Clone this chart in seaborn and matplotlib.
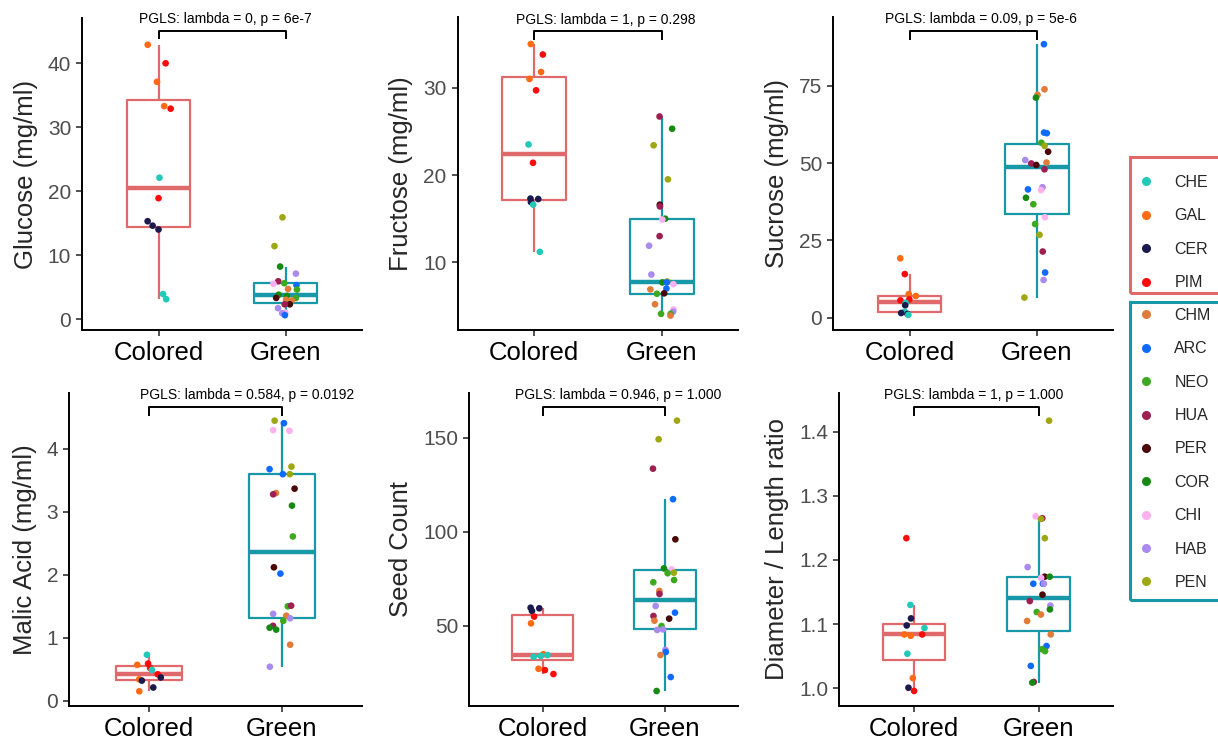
import numpy as np
import pandas as pd
import seaborn as sns
import matplotlib.pyplot as plt
from matplotlib.lines import Line2D
from matplotlib.patches import Rectangle

colored_species = ["CHE", "GAL", "CER", "PIM"]
green_species = ["CHM", "ARC", "NEO", "HUA", "PER", "COR", "CHI", "HAB", "PEN"]
species_colors = {
    "CHE": "#22C9B8", "GAL": "#FF6A13", "CER": "#1B1A4E", "PIM": "#FF0A0A",
    "CHM": "#E07B39", "ARC": "#0F6BFF", "NEO": "#3CA91F", "HUA": "#9E1F52",
    "PER": "#4A0808", "COR": "#178A13", "CHI": "#FFB0EE", "HAB": "#A98BEF",
    "PEN": "#9FA712",
}
group_colors = {"Colored": "#E0696B", "Green": "#1698A6"}
groups = ["Colored", "Green"]

# glucose
glucose_sp = ["GAL", "PIM", "GAL", "GAL", "PIM", "CHE", "PIM", "CER", "CER", "CER", "CHE", "CHE",
              "PEN", "PEN", "COR", "HAB", "HUA", "NEO", "ARC", "CHI", "CHM", "NEO", "COR", "COR",
              "NEO", "PER", "CHM", "CHM", "PER", "HUA", "HAB", "CHI", "HAB", "ARC"]
glucose_val = [42.9, 40.0, 37.1, 33.3, 32.9, 22.1, 18.9, 15.3, 14.6, 14.0, 3.9, 3.1,
               15.9, 11.4, 8.2, 7.1, 5.9, 5.6, 5.3, 5.5, 4.7, 4.6, 3.8, 3.6,
               3.3, 3.3, 3.0, 2.9, 2.3, 2.3, 1.7, 1.0, 0.9, 0.6]

# fructose
fructose_sp = ["GAL", "PIM", "GAL", "GAL", "PIM", "CHE", "PIM", "CER", "CER", "CER", "CHE", "CHE",
               "HUA", "COR", "PEN", "PEN", "PER", "HUA", "COR", "CHI", "HUA", "HAB", "HAB", "PEN",
               "COR", "ARC", "CHI", "ARC", "CHM", "NEO", "PER", "CHM", "CHI", "HAB", "NEO", "NEO", "CHM"]
fructose_val = [35.0, 33.8, 31.8, 31.0, 29.7, 23.5, 21.4, 17.3, 17.25, 16.9, 16.6, 11.2,
                26.7, 25.3, 23.4, 19.5, 16.6, 16.4, 15.0, 14.9, 13.0, 11.9, 8.6, 7.8,
                7.7, 7.7, 7.5, 7.0, 6.9, 6.4, 6.45, 5.2, 4.6, 4.35, 4.1, 4.1, 3.9]

# sucrose
sucrose_sp = ["GAL", "PIM", "GAL", "GAL", "PIM", "PIM", "CHE", "CER", "CHE", "CER", "CER", "CHE",
              "ARC", "CHM", "CHM", "COR", "ARC", "ARC", "NEO", "PEN", "PER", "HAB", "CHM", "HUA",
              "PER", "HUA", "HAB", "ARC", "CHI", "COR", "NEO", "CHI", "NEO", "PEN", "HUA", "ARC",
              "HAB", "PEN"]
sucrose_val = [19.2, 14.1, 7.6, 7.0, 5.9, 5.6, 4.8, 4.0, 1.9, 1.5, 1.2, 0.9,
               88.5, 73.9, 72.1, 71.2, 59.9, 59.7, 56.6, 55.6, 53.7, 51.0, 50.2, 49.9,
               49.4, 48.0, 42.2, 41.5, 41.3, 38.8, 36.7, 32.5, 30.3, 26.8, 21.4, 14.6,
               12.2, 6.5]

# malic acid
malic_sp = ["CHE", "PIM", "GAL", "PIM", "CHE", "PIM", "CER", "GAL", "CER", "CER", "GAL",
            "PEN", "ARC", "CHI", "CHI", "PEN", "ARC", "ARC", "PEN", "PER", "CHM", "HUA", "COR",
            "NEO", "PER", "ARC", "NEO", "HUA", "HAB", "CHM", "HAB", "NEO", "HUA", "COR", "COR",
            "CHM", "HAB"]
malic_val = [0.73, 0.59, 0.57, 0.52, 0.49, 0.42, 0.37, 0.34, 0.32, 0.21, 0.15,
             4.45, 4.41, 4.30, 4.29, 3.72, 3.68, 3.60, 3.60, 3.37, 3.30, 3.28, 3.10,
             2.61, 2.12, 2.02, 1.50, 1.51, 1.38, 1.35, 1.31, 1.27, 1.19, 1.16, 1.13,
             0.89, 0.54]

# seed count
seed_sp = ["CER", "CER", "CER", "PIM", "GAL", "GAL", "CHE", "CHE", "CHE", "GAL", "PIM", "PIM",
           "PEN", "PEN", "HUA", "ARC", "PER", "COR", "CHI", "PEN", "NEO", "NEO", "NEO", "CHM",
           "HUA", "HAB", "ARC", "HUA", "PER", "CHM", "NEO", "HAB", "HAB", "HAB", "ARC", "CHM",
           "ARC", "COR"]
seed_val = [59.7, 59.4, 58.0, 55.0, 51.4, 35.0, 34.6, 34.1, 33.7, 27.3, 26.6, 24.5,
            159.0, 149.1, 133.5, 117.3, 96.0, 80.6, 80.0, 78.3, 78.0, 74.4, 73.2, 68.6,
            67.0, 60.6, 57.1, 55.3, 53.9, 52.8, 50.0, 48.2, 47.9, 37.3, 36.2, 34.6,
            22.9, 15.5]

# diameter / length ratio
ratio_sp = ["PIM", "CHE", "CER", "CER", "CHE", "PIM", "GAL", "GAL", "CHE", "GAL", "CER", "PIM",
            "PEN", "CHI", "HUA", "PEN", "PEN", "HAB", "PER", "COR", "CHI", "ARC", "ARC", "HAB",
            "PER", "HUA", "HAB", "COR", "NEO", "CHM", "CHM", "CHM", "ARC", "NEO", "NEO", "ARC",
            "HUA", "COR"]
ratio_val = [1.234, 1.130, 1.109, 1.098, 1.094, 1.084, 1.084, 1.082, 1.054, 1.016, 1.001, 0.996,
             1.417, 1.268, 1.265, 1.264, 1.234, 1.189, 1.174, 1.174, 1.172, 1.163, 1.163, 1.163,
             1.146, 1.136, 1.129, 1.123, 1.119, 1.115, 1.105, 1.084, 1.066, 1.061, 1.058, 1.035,
             1.010, 1.009]

sns.set_style("ticks")
plt.rcParams["font.family"] = ["Liberation Sans", "DejaVu Sans"]

W, H = 1218, 741
fig = plt.figure(figsize=(W / 100, H / 100), dpi=100)


def px_axes(left, top, right, bottom):
    return fig.add_axes([left / W, 1 - bottom / H, (right - left) / W, (bottom - top) / H])


panels = [
    ("Glucose (mg/ml)", glucose_sp, glucose_val, (82.3, 18.3, 361.7, 330), (-1.72, 47.04),
     [0, 10, 20, 30, 40], "{:.0f}", (45.1, 43.75, 46.9, 0.53), "PGLS: lambda = 0, p = 6e-7"),
    ("Fructose (mg/ml)", fructose_sp, fructose_val, (457.7, 16.7, 738.3, 330), (2.25, 38.13),
     [10, 20, 30], "{:.0f}", (36.5, 35.46, 37.8, 0.56), "PGLS: lambda = 1, p = 0.298"),
    ("Sucrose (mg/ml)", sucrose_sp, sucrose_val, (833.3, 16.7, 1113.3, 330), (-4.0, 97.4),
     [0, 25, 50, 75], "{:.0f}", (92.9, 89.9, 96.6, 0.56), "PGLS: lambda = 0.09, p = 5e-6"),
    ("Malic Acid (mg/ml)", malic_sp, malic_val, (69.3, 393.3, 361.7, 705.7), (-0.079, 4.885),
     [0, 1, 2, 3, 4], "{:.0f}", (4.66, 4.52, 4.86, 0.74), "PGLS: lambda = 0.584, p = 0.0192"),
    ("Seed Count", seed_sp, seed_val, (469.3, 393.3, 738.3, 705.7), (7.7, 173.5),
     [50, 100, 150], "{:.0f}", (166.1, 161.5, 172.7, 0.62), "PGLS: lambda = 0.946, p = 1.000"),
    ("Diameter / Length ratio", ratio_sp, ratio_val, (839.3, 393.3, 1113.3, 705.7), (0.973, 1.4597),
     [1.0, 1.1, 1.2, 1.3, 1.4], "{:.1f}", (1.438, 1.4244, 1.457, 0.48), "PGLS: lambda = 1, p = 1.000"),
]

np.random.seed(7)
for ylabel, sp, val, box, ylim, yticks, fmt, bracket, label in panels:
    df = pd.DataFrame({"species": sp, "value": val})
    df["group"] = np.where(df.species.isin(colored_species), "Colored", "Green")
    ax = px_axes(*box)
    sns.boxplot(data=df, x="group", y="value", hue="group", order=groups, hue_order=groups,
                palette=group_colors, fill=False, width=0.5, linewidth=1.6, showfliers=False,
                whis=1.5, medianprops={"linewidth": 3.2}, capprops={"linewidth": 0},
                legend=False, ax=ax)
    sns.stripplot(data=df, x="group", y="value", hue="species", order=groups,
                  palette=species_colors, jitter=0.1, size=4.8, linewidth=0,
                  legend=False, ax=ax)
    ax.set_xlim(-0.6, 1.6)
    ax.set_ylim(*ylim)
    ax.set_yticks(yticks)
    ax.set_yticklabels([fmt.format(t) for t in yticks])
    ax.set_xlabel("")
    ax.set_ylabel(ylabel, fontsize=18.5, labelpad=7)
    ax.tick_params(axis="y", labelsize=15, colors="#4D4D4D", length=4, width=1.2, pad=4)
    ax.tick_params(axis="x", labelsize=18.5, labelcolor="black", color="#4D4D4D",
                   length=4, width=1.2, pad=4)
    ax.tick_params(axis="both", color="#333333")
    for s in ["left", "bottom"]:
        ax.spines[s].set_linewidth(1.4)
        ax.spines[s].set_color("black")
    sns.despine(ax=ax)
    top_y, leg_y, text_y, text_x = bracket
    ax.plot([0, 0, 1, 1], [leg_y, top_y, top_y, leg_y], color="black", lw=1.4,
            clip_on=False, solid_capstyle="butt")
    ax.text(text_x, text_y, label, ha="center", va="center", fontsize=10, color="black")

# legends with colored frames
def legend_handles(names):
    return [Line2D([], [], marker="o", ls="", color=species_colors[n], markersize=5.5)
            for n in names]


fig.add_artist(Rectangle((1130 / W, 1 - 293 / H), 100 / W, 136 / H, transform=fig.transFigure,
                         fill=False, edgecolor=group_colors["Colored"], lw=2.2, clip_on=False))
fig.add_artist(Rectangle((1130 / W, 1 - 600 / H), 100 / W, 298 / H, transform=fig.transFigure,
                         fill=False, edgecolor=group_colors["Green"], lw=2.2, clip_on=False))

leg_kw = dict(frameon=False, fontsize=11.5, handlelength=1.3, handletextpad=1.1,
              labelspacing=1.15, borderpad=0, borderaxespad=0, loc="upper left")
fig.legend(legend_handles(colored_species), colored_species,
           bbox_to_anchor=(1136 / W, 1 - 175 / H), **leg_kw)
fig.legend(legend_handles(green_species), green_species,
           bbox_to_anchor=(1136 / W, 1 - 308 / H), **leg_kw)

fig.savefig("out.png", dpi=100)
